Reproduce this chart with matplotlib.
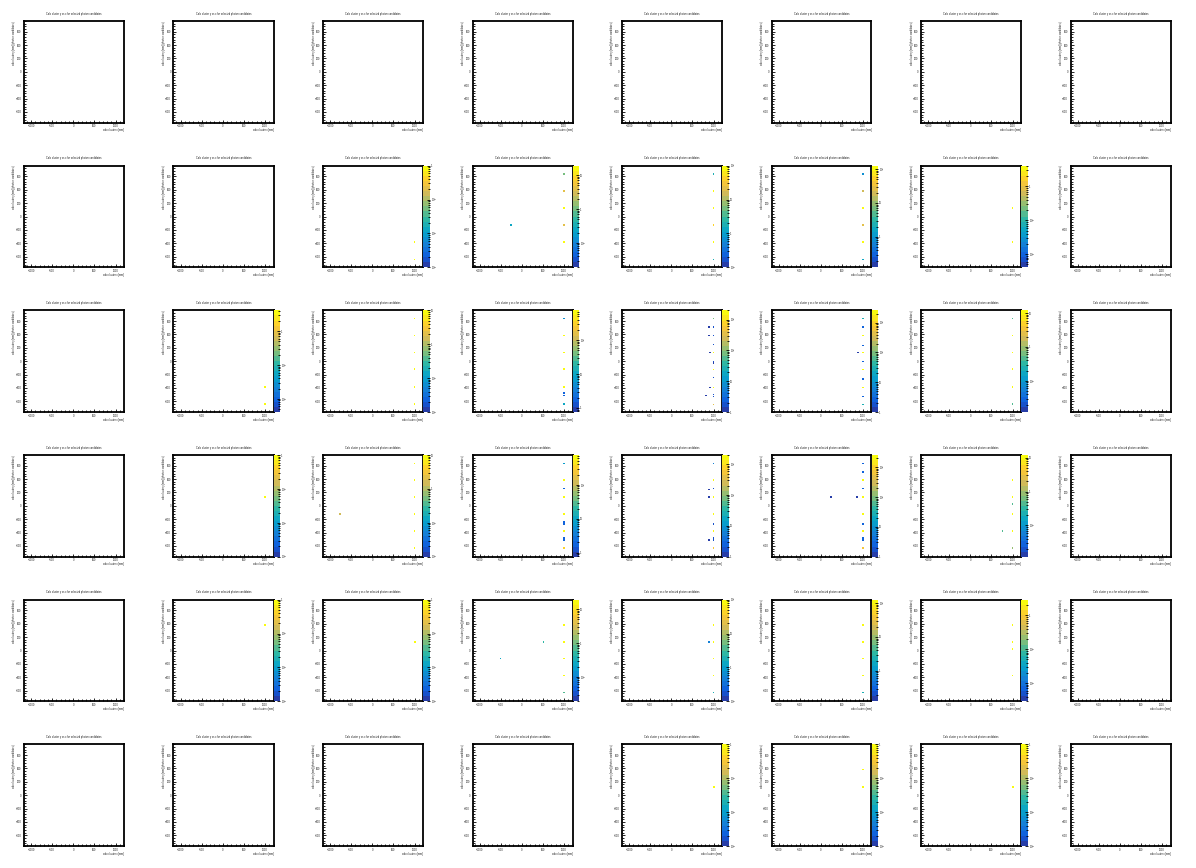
import numpy as np
import matplotlib
matplotlib.use("Agg")
import matplotlib.pyplot as plt
from matplotlib.colors import LinearSegmentedColormap, ListedColormap, LogNorm
from matplotlib.cm import ScalarMappable
from matplotlib.ticker import FixedLocator, MultipleLocator, FuncFormatter, NullFormatter, LogLocator

# ---------------- data ----------------
N_ROWS, N_COLS = 6, 8
TITLE = "Calo cluster y vs x for selected photon candidates"
X_LABEL = "calo cluster x [mm]"
Y_LABEL = "calo cluster y [mm] (photon candidates)"
X_TICKS = [-1000, -500, 0, 500, 1000]
Y_TICKS = [-600, -400, -200, 0, 200, 400, 600]
X_RANGE = (-1170, 1200)
Y_RANGE = (-760, 760)

# (x [mm], y [mm], bin content) per filled panel; rows/cols are 1-based
h_2_3 = [(1000, -385, 1.0), (1000, -640, 1.0)]
h_2_4 = [(1000, 635, 1.0), (1000, 380, 3.5), (1000, 125, 19), (1000, -130, 4.0),
         (1000, -385, 18), (-255, -130, 0.3)]
h_2_5 = [(1000, 635, 2.0), (1000, 380, 90), (1000, 125, 100), (1000, -130, 40),
         (1000, -385, 95), (1000, -640, 2.0)]
h_2_6 = [(1000, 635, 1.0), (1000, 380, 20), (1000, 125, 126), (1000, -130, 25),
         (1000, -385, 120), (1000, -640, 1.5)]
h_2_7 = [(1000, 125, 4.1), (1000, -385, 4.0)]

h_3_2 = [(1000, -385, 4.1), (1000, -640, 3.0)]
h_3_3 = [(1000, 635, 10), (1000, 384, 9), (1000, 131, 10), (1000, -121, 9),
         (1000, -388, 10), (1000, -641, 8)]
h_3_4 = [(1000, 635, 5), (1000, 384, 760), (1000, 131, 700), (1000, -121, 740),
         (1000, -388, 720), (1000, -478, 2), (1000, -512, 2), (1000, -641, 10)]
h_3_5 = [(1000, 635, 90), (1000, 511, 2), (885, 511, 1), (1000, 381, 2), (885, 381, 1),
         (1000, 247, 2), (1000, 127, 2000), (916, 127, 1), (1000, -2, 2), (1000, -27, 1),
         (1000, -126, 1900), (1000, -246, 2), (1000, -395, 2000), (916, -395, 1),
         (1000, -500, 2), (1000, -525, 2), (814, -510, 1), (1000, -650, 300)]
h_3_6 = [(1000, 635, 30), (1000, 511, 3), (1000, 381, 2600), (1000, 237, 3),
         (1000, 127, 2500), (884, 127, 1), (1000, -2, 3), (1000, -126, 2400),
         (1000, -266, 3), (1000, -395, 2500), (1000, -525, 3), (1000, -650, 30)]
h_3_7 = [(1000, 635, 0.5), (1000, 384, 12), (1000, 131, 11), (1000, -121, 12),
         (1000, -388, 11), (1000, -641, 0.5)]

h_4_2 = [(1000, 131, 1.0)]
h_4_3 = [(1000, 635, 10), (1000, 383, 10), (1000, 131, 9), (1000, -121, 10),
         (1000, -373, 9), (1000, -626, 8), (-765, -121, 1.5)]
h_4_4 = [(1000, 635, 8), (1000, 383, 760), (1000, 260, 2), (1000, 131, 700),
         (1000, -121, 600), (1000, -245, 2), (1000, -270, 2), (1000, -373, 740),
         (1000, -478, 2), (1000, -512, 2), (1000, -626, 300)]
h_4_5 = [(1000, 635, 5), (1000, 383, 2000), (1000, 260, 2), (897, 245, 1),
         (1000, 131, 1950), (897, 131, 1), (1000, -121, 1900), (1000, -270, 2),
         (1000, -373, 2000), (1000, -478, 2), (1000, -512, 2), (897, -512, 1),
         (1000, -626, 500)]
h_4_6 = [(1000, 635, 3), (1000, 503, 3), (1000, 383, 2600), (1000, 260, 3),
         (1000, 131, 2500), (238, 131, 1), (858, 131, 1), (1000, -121, 2400),
         (1000, -270, 3), (1000, -373, 2500), (1000, -478, 3), (1000, -512, 3),
         (1000, -626, 600)]
h_4_7 = [(1000, 383, 12), (1000, 131, 11), (1000, 27, 0.5), (1000, -121, 12),
         (1000, -373, 11), (765, -373, 0.5), (1000, -626, 1.0)]

h_5_2 = [(1000, 383, 1.0)]
h_5_3 = [(1000, 131, 1.0)]
h_5_4 = [(1000, 383, 19), (1000, 131, 18), (515, 131, 0.5), (1000, -121, 17),
         (1000, -373, 19), (1000, -626, 0.8), (-511, -121, 0.3)]
h_5_5 = [(1000, 383, 100), (1000, 131, 95), (897, 131, 0.5), (1000, -121, 90),
         (1000, -373, 100), (1000, -626, 2.0)]
h_5_6 = [(1000, 383, 126), (1000, 131, 120), (1000, -121, 110), (1000, -373, 120),
         (1000, -626, 2.0)]
h_5_7 = [(1000, 383, 2.9), (1000, 131, 2.8), (1000, 27, 2.7), (1000, -373, 2.9)]

h_6_5 = [(1000, 125, 1.0)]
h_6_6 = [(1000, 385, 1.0), (1000, 125, 1.0)]
h_6_7 = [(1000, 125, 1.0)]

PANELS = {
    (2, 3): h_2_3, (2, 4): h_2_4, (2, 5): h_2_5, (2, 6): h_2_6, (2, 7): h_2_7,
    (3, 2): h_3_2, (3, 3): h_3_3, (3, 4): h_3_4, (3, 5): h_3_5, (3, 6): h_3_6, (3, 7): h_3_7,
    (4, 2): h_4_2, (4, 3): h_4_3, (4, 4): h_4_4, (4, 5): h_4_5, (4, 6): h_4_6, (4, 7): h_4_7,
    (5, 2): h_5_2, (5, 3): h_5_3, (5, 4): h_5_4, (5, 5): h_5_5, (5, 6): h_5_6, (5, 7): h_5_7,
    (6, 5): h_6_5, (6, 6): h_6_6, (6, 7): h_6_7,
}

# ---------------- style ----------------
plt.rcParams['font.family'] = ['Liberation Sans', 'DejaVu Sans']
plt.rcParams['mathtext.fontset'] = 'custom'
plt.rcParams['mathtext.rm'] = 'Liberation Sans'
plt.rcParams['mathtext.it'] = 'Liberation Sans'

TXT = '#1a1a1a'

# ROOT kBird palette, 20 contour levels
stops = [0.0, 0.125, 0.25, 0.375, 0.5, 0.625, 0.75, 0.875, 1.0]
red = [0.2082, 0.0592, 0.0780, 0.0232, 0.1802, 0.5301, 0.8186, 0.9956, 0.9764]
green = [0.1664, 0.3599, 0.5041, 0.6419, 0.7178, 0.7492, 0.7328, 0.7862, 0.9832]
blue = [0.5293, 0.8684, 0.8385, 0.7914, 0.6425, 0.4662, 0.3499, 0.1968, 0.0539]
bird = LinearSegmentedColormap.from_list(
    "kBird", list(zip(stops, zip(red, green, blue))), N=255)
cmap = ListedColormap(bird(np.linspace(0.05, 1.0, 20)))

W, H = 1196, 868
fig = plt.figure(figsize=(W / 100, H / 100), dpi=100)
fig.patch.set_facecolor('white')

CELL_W, CELL_H = W / N_COLS, H / N_ROWS
FR_L, FR_T, FR_W, FR_H = 24, 21, 100, 101.7
CB_W = 6.5
FS = 1.8


def zfmt(v, pos):
    k = int(round(np.log10(v)))
    if k == 0:
        return "1"
    if k == 1:
        return "10"
    return r"$10^{%d}$" % k


for r in range(1, N_ROWS + 1):
    for c in range(1, N_COLS + 1):
        x0 = (c - 1) * CELL_W + FR_L
        y0 = (r - 1) * CELL_H + FR_T
        ax = fig.add_axes([x0 / W, 1 - (y0 + FR_H) / H, FR_W / W, FR_H / H])
        ax.set_xlim(*X_RANGE)
        ax.set_ylim(*Y_RANGE)
        for s in ax.spines.values():
            s.set_linewidth(1.3)
        ax.xaxis.set_major_locator(FixedLocator(X_TICKS))
        ax.yaxis.set_major_locator(FixedLocator(Y_TICKS))
        ax.xaxis.set_minor_locator(MultipleLocator(100))
        ax.yaxis.set_minor_locator(MultipleLocator(40))
        ax.tick_params(which='both', direction='in', top=False, right=False,
                       labelsize=FS, width=0.6, labelcolor=TXT)
        ax.tick_params(which='major', length=2.2)
        ax.tick_params(which='minor', length=1.1)
        ax.tick_params(axis='x', pad=1.2)
        ax.tick_params(axis='y', pad=1.8)
        ax.set_xlabel(X_LABEL, fontsize=FS, loc='right', color=TXT)
        ax.xaxis.set_label_coords(1.0, -0.055)
        ax.set_ylabel(Y_LABEL, fontsize=FS, loc='top', color=TXT)
        ax.yaxis.set_label_coords(-0.075, 1.0)
        ax.text(0.5, 1 + 7.5 / FR_H, TITLE, transform=ax.transAxes,
                ha='center', va='center', fontsize=FS, color=TXT)

        pts = PANELS.get((r, c))
        if pts:
            xs = [p[0] for p in pts]
            ys = [p[1] for p in pts]
            ws = [p[2] for p in pts]
            zmax = max(ws)
            zmin = min(1.0, 0.001 * zmax)
            norm = LogNorm(vmin=zmin, vmax=zmax)
            ax.scatter(xs, ys, c=ws, cmap=cmap, norm=norm, marker='s',
                       s=1.3, linewidths=0, zorder=3)
            cax = fig.add_axes([(x0 + FR_W) / W, 1 - (y0 + FR_H) / H,
                                CB_W / W, FR_H / H])
            cb = fig.colorbar(ScalarMappable(norm=norm, cmap=cmap), cax=cax)
            cb.outline.set_visible(False)
            cax.yaxis.set_ticks_position('right')
            cax.yaxis.set_major_locator(LogLocator(base=10))
            cax.yaxis.set_minor_locator(LogLocator(base=10, subs=np.arange(2, 10)))
            cax.yaxis.set_major_formatter(FuncFormatter(zfmt))
            cax.yaxis.set_minor_formatter(NullFormatter())
            cax.tick_params(which='both', direction='in', labelsize=FS,
                            width=0.6, pad=0.8, colors='black', labelcolor=TXT)
            cax.tick_params(which='major', length=2.2)
            cax.tick_params(which='minor', length=1.1)

fig.savefig("out.png", dpi=100, facecolor='white')
